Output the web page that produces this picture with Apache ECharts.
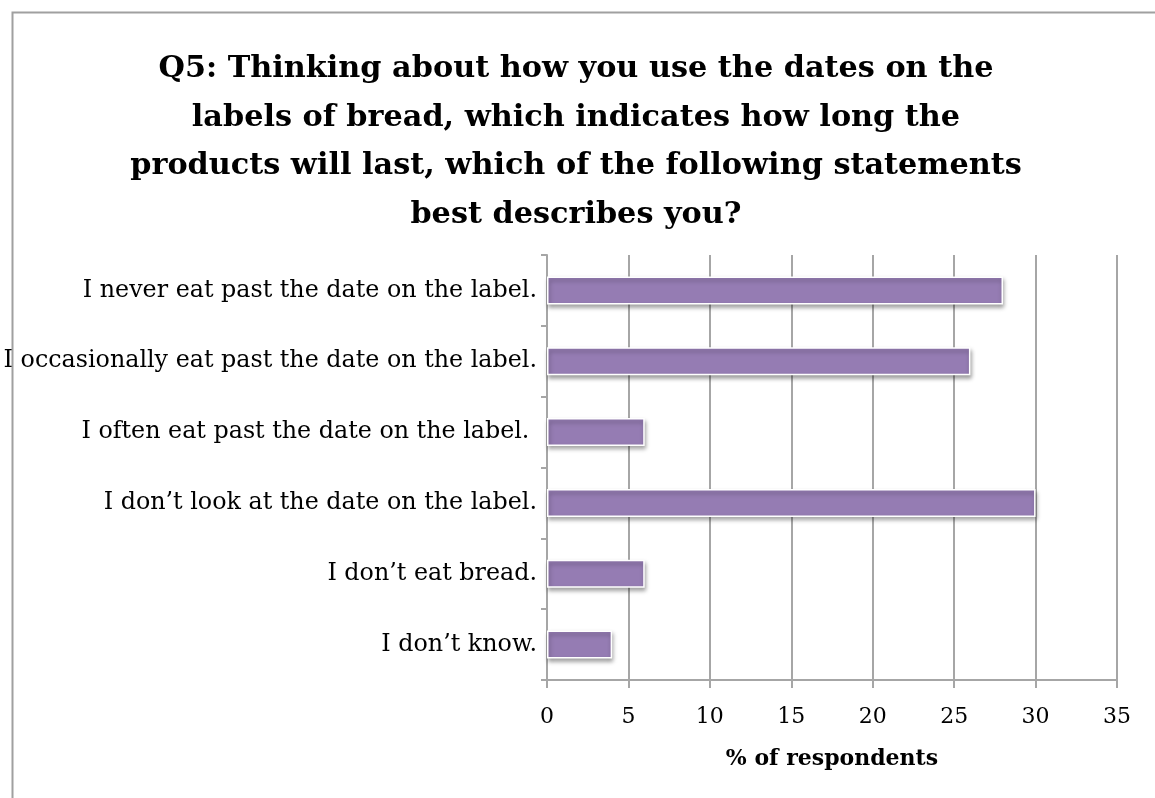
<!DOCTYPE html>
<html>
<head>
<meta charset="utf-8">
<script src="https://cdn.jsdelivr.net/npm/echarts@6/dist/echarts.min.js"></script>
<style>
  html, body { margin: 0; padding: 0; background: #fff; }
  #chart { width: 1155px; height: 798px; }
</style>
</head>
<body>
<div id="chart"></div>
<script>
// Survey answers (top to bottom) and share of respondents in %
const categories = [
  'I never eat past the date on the label.',
  'I occasionally eat past the date on the label.',
  'I often eat past the date on the label. ',
  'I don\u2019t look at the date on the label.',
  'I don\u2019t eat bread.',
  'I don\u2019t know.'
];
const percentages = [28, 26, 6, 30, 6, 4];
const xTicks = [0, 5, 10, 15, 20, 25, 30, 35];

const titleText = 'Q5: Thinking about how you use the dates on the\nlabels of bread, which indicates how long the\nproducts will last, which of the following statements\nbest describes you?';

const serif = '"DejaVu Serif", "Liberation Serif", serif';
const gridColor = '#a6a6a6';

const chart = echarts.init(document.getElementById('chart'), null, { renderer: 'canvas' });
chart.setOption({
  backgroundColor: '#ffffff',
  animation: false,
  graphic: [{
    type: 'rect',
    shape: { x: 12.5, y: 12.5, width: 1300, height: 1000 },
    style: { fill: 'none', stroke: '#a0a0a0', lineWidth: 2 },
    silent: true,
    z: -1
  }],
  title: {
    text: titleText,
    left: 571,
    top: 40,
    textAlign: 'center',
    textStyle: {
      fontFamily: serif,
      fontWeight: 'bold',
      fontSize: 30.3,
      lineHeight: 48.5,
      color: '#000'
    }
  },
  grid: { left: 547, right: 38, top: 255, bottom: 118, containLabel: false },
  xAxis: {
    type: 'value',
    min: xTicks[0],
    max: xTicks[xTicks.length - 1],
    interval: 5,
    name: '% of respondents',
    nameLocation: 'middle',
    nameGap: 68,
    nameTextStyle: { fontFamily: serif, fontWeight: 'bold', fontSize: 22, color: '#000' },
    axisLine: { show: true, lineStyle: { color: gridColor, width: 2 } },
    axisTick: { show: true, length: 8, lineStyle: { color: gridColor, width: 2 } },
    axisLabel: { fontFamily: serif, fontSize: 22, color: '#000', margin: 26 },
    splitLine: { show: true, lineStyle: { color: gridColor, width: 2 } }
  },
  yAxis: {
    type: 'category',
    inverse: true,
    data: categories,
    axisLine: { show: true, lineStyle: { color: gridColor, width: 2 } },
    axisTick: { show: true, length: 6, alignWithLabel: false, lineStyle: { color: gridColor, width: 2 } },
    axisLabel: { fontFamily: serif, fontSize: 23.8, color: '#000', margin: 10 }
  },
  series: [{
    type: 'bar',
    data: percentages,
    barWidth: 28,
    itemStyle: {
      color: '#957cb3',
      borderColor: '#ffffff',
      borderWidth: 1.5,
      shadowColor: 'rgba(0,0,0,0.35)',
      shadowBlur: 4,
      shadowOffsetX: 1,
      shadowOffsetY: 3
    }
  }]
});
</script>
</body>
</html>
